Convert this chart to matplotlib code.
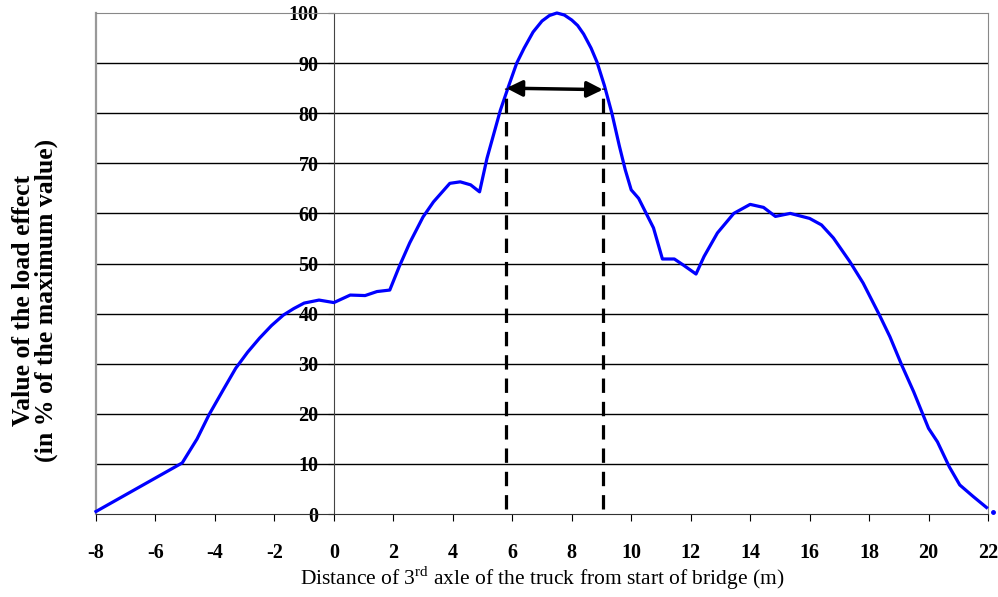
import matplotlib.pyplot as plt

plt.rcParams['font.family'] = ['Liberation Serif', 'DejaVu Serif']
plt.rcParams['axes.unicode_minus'] = False
plt.rcParams['mathtext.fontset'] = 'custom'
plt.rcParams['mathtext.rm'] = 'Liberation Serif'

# position of the 3rd axle (m) and load effect (% of max)
dist = [-8, -5.1, -4.6, -4.2, -3.7, -3.3, -2.9, -2.5, -2.1, -1.7, -1.35, -1.0,
        -0.5, 0, 0.55, 1.05, 1.45, 1.88, 2.2, 2.55, 3.0, 3.35, 3.9, 4.25, 4.6,
        4.9, 5.15, 5.6, 5.9, 6.15, 6.4, 6.7, 7.0, 7.25, 7.5, 7.75, 8.0, 8.2,
        8.4, 8.65, 8.85, 9.1, 9.35, 9.6, 9.8, 10.0,
        10.25, 10.75, 11.05, 11.45, 11.75, 12.18, 12.45, 12.9, 13.45, 14.0,
        14.45, 14.85, 15.35, 16.0, 16.4, 16.8, 17.35, 17.8, 18.35, 18.7, 19.1,
        19.5, 20.0, 20.3, 20.7, 21.05, 21.5, 21.95]
effect = [0.5, 10.2, 15.0, 19.8, 25.0, 29.1, 32.3, 35.1, 37.6, 39.7, 41.0, 42.1,
          42.7, 42.2, 43.7, 43.6, 44.4, 44.7, 49.4, 54.1, 59.3, 62.3, 66.0, 66.3,
          65.7, 64.3, 71.0, 80.6, 85.8, 90.0, 93.0, 96.2, 98.4, 99.5, 100.0,
          99.6, 98.6, 97.5, 95.8, 93.0, 90.2, 85.5, 80.0, 73.5, 68.7, 64.7,
          63.0, 57.1, 50.9, 50.9, 49.7, 47.9, 51.4, 56.1,
          60.0, 61.8, 61.2, 59.4, 60.0, 59.0, 57.7, 55.1, 50.4, 46.1, 39.7,
          35.4, 29.7, 24.4, 17.1, 14.4, 9.4, 5.8, 3.5, 1.3]
end_x = [22.17]
end_y = [0.3]

# band of positions giving at least 85 % of the max
band_left = 5.8
band_right = 9.05
band_level = 85

x_ticks = list(range(-8, 23, 2))
y_ticks = list(range(0, 101, 10))

fig = plt.figure(figsize=(9.98, 5.97), dpi=100)
ax = fig.add_axes([96/998, 1 - 514/597, (988 - 96)/998, (514 - 13)/597])
ax.set_xlim(-8, 22)
ax.set_ylim(0, 100)
ax.set_xticks(x_ticks)
ax.set_yticks(y_ticks)

# horizontal grid
for v in y_ticks[1:-1]:
    ax.axhline(v, color='black', lw=1.0, zorder=1)

# y axis sits at x = 0, outer frame is grey
ax.spines['left'].set_position(('data', 0))
ax.spines['left'].set_color('#444444')
ax.spines['top'].set_color('#888888')
ax.spines['right'].set_color('#888888')
ax.spines['bottom'].set_color('#333333')
ax.axvline(-8, color='#999999', lw=1.6, clip_on=False)

ax.tick_params(axis='y', direction='out', length=4, pad=7, labelsize=14.5)
ax.tick_params(axis='x', direction='out', length=5, pad=16, labelsize=14.5)
for lbl in ax.get_xticklabels() + ax.get_yticklabels():
    lbl.set_fontweight('bold')

ax.plot(dist, effect, color='#0000ff', lw=2.3, zorder=3, clip_on=False)
ax.plot(end_x, end_y, 'o', ms=2.5, color='#0000ff', clip_on=False)

# dashed verticals and the double arrow
for bx in [band_left, band_right]:
    ax.plot([bx, bx], [1, band_level], color='black', lw=2.3,
            linestyle=(0, (4.5, 2.8)), zorder=4)
ax.annotate('', xy=(band_left, band_level), xytext=(band_right, band_level - 0.3),
            arrowprops=dict(arrowstyle='<|-|>', color='black', lw=2.5,
                            mutation_scale=24, shrinkA=0, shrinkB=0), zorder=5)

ax.set_xlabel('Distance of 3$^{\\mathrm{rd}}$ axle of the truck from start of bridge (m)',
              fontsize=15.5, labelpad=1)
fig.text(35/998, 1 - 300/597, 'Value of the load effect\n(in % of the maximum value)',
         rotation=90, ha='center', va='center', fontsize=18.5, fontweight='bold',
         linespacing=1.0)

fig.savefig('out.png', dpi=100)
